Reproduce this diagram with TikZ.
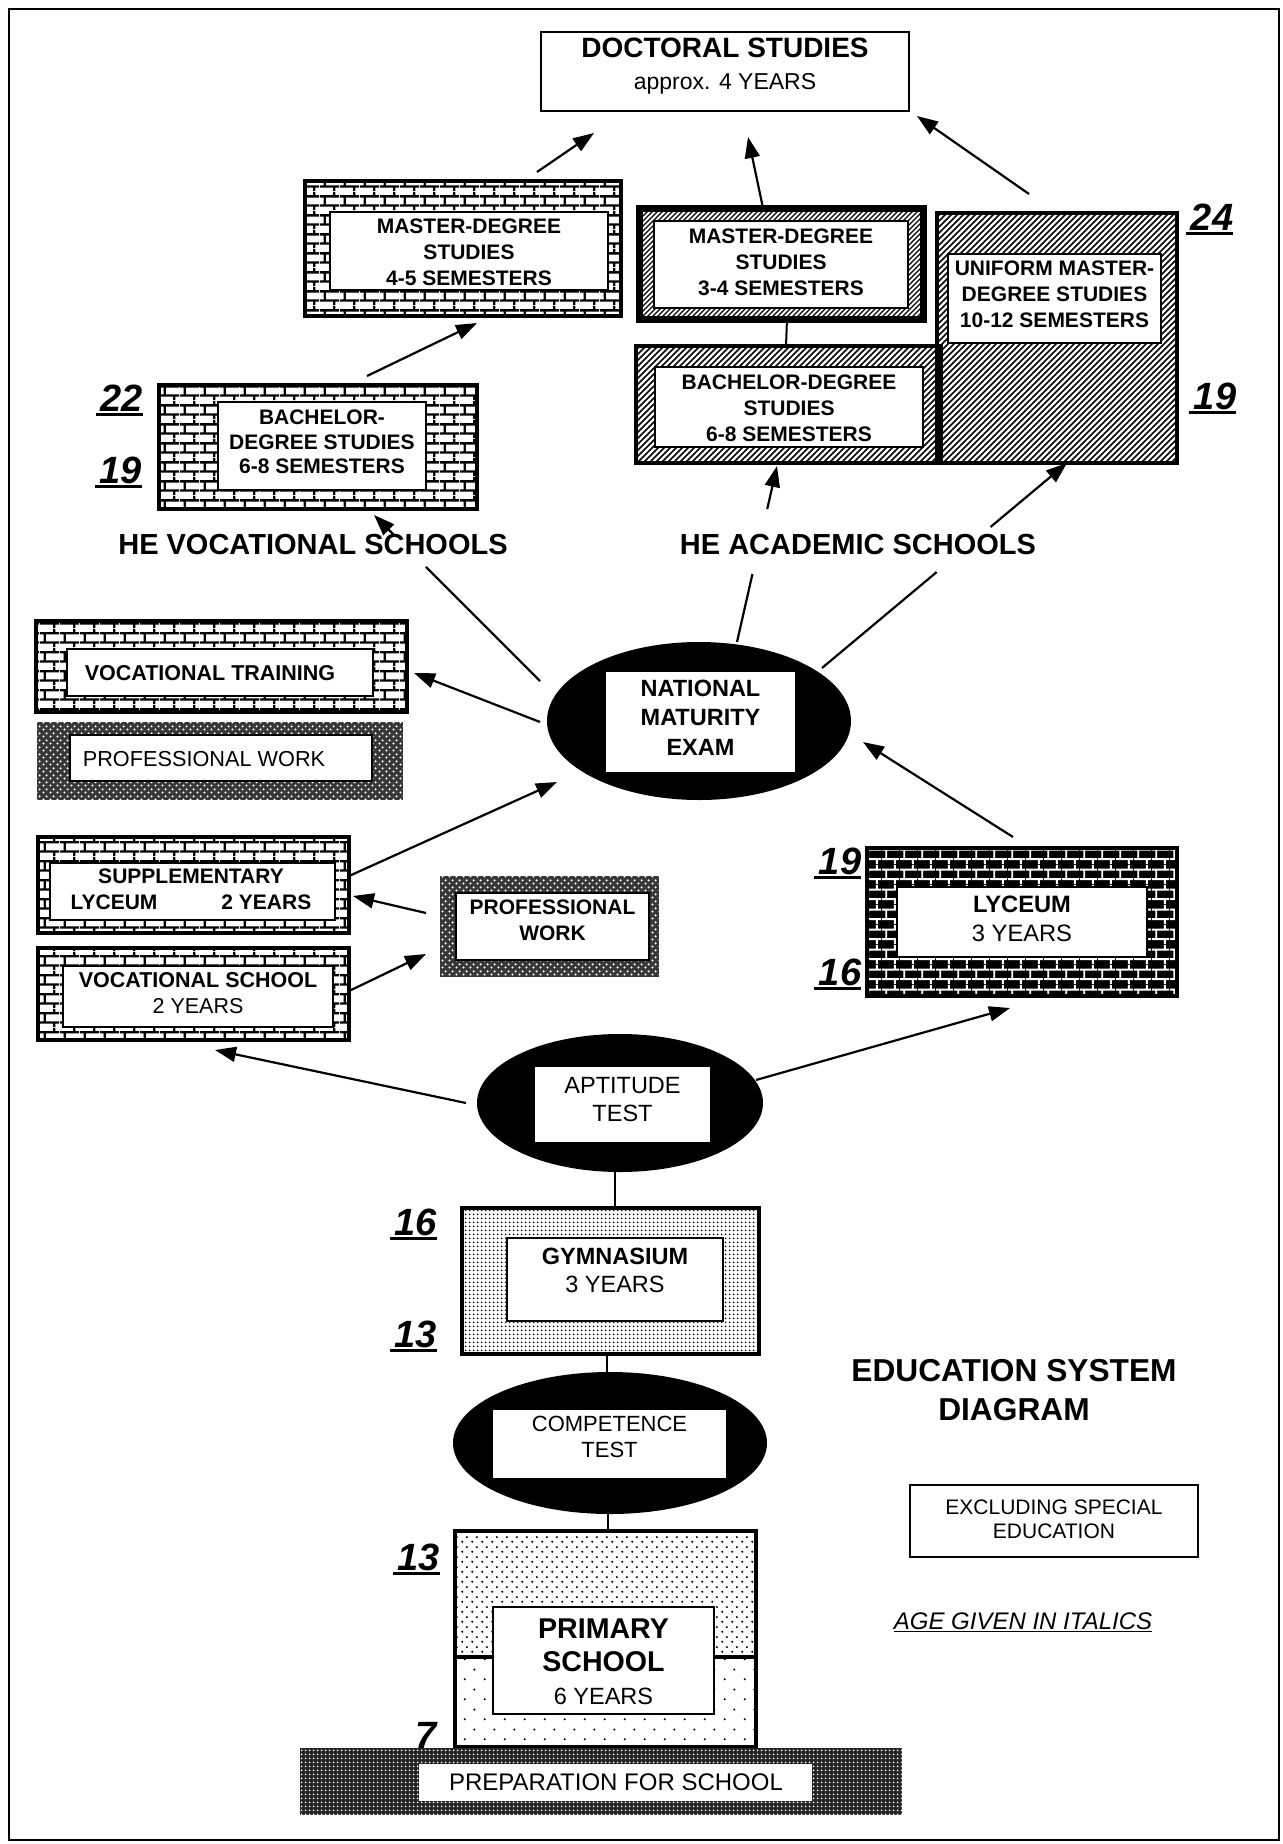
\documentclass[tikz,border=0pt]{standalone}
\usepackage{fontspec}
\setmainfont{Liberation Sans}
\usetikzlibrary{patterns,shapes.geometric,arrows.meta,calc}

\pgfdeclarepatternformonly{brickpat}{\pgfpointorigin}{\pgfpoint{20pt}{19pt}}{\pgfpoint{20pt}{19pt}}{%
  \pgfsetlinewidth{2.4pt}%
  \pgfpathmoveto{\pgfpoint{0pt}{4.75pt}}\pgfpathlineto{\pgfpoint{20pt}{4.75pt}}%
  \pgfpathmoveto{\pgfpoint{0pt}{14.25pt}}\pgfpathlineto{\pgfpoint{20pt}{14.25pt}}%
  \pgfpathmoveto{\pgfpoint{5pt}{4.75pt}}\pgfpathlineto{\pgfpoint{5pt}{14.25pt}}%
  \pgfpathmoveto{\pgfpoint{15pt}{14.25pt}}\pgfpathlineto{\pgfpoint{15pt}{19pt}}%
  \pgfpathmoveto{\pgfpoint{15pt}{0pt}}\pgfpathlineto{\pgfpoint{15pt}{4.75pt}}%
  \pgfusepath{stroke}}
\pgfdeclarepatternformonly{brickS}{\pgfpointorigin}{\pgfpoint{18pt}{20pt}}{\pgfpoint{18pt}{20pt}}{%
  \pgfsetlinewidth{2pt}%
  \pgfpathmoveto{\pgfpoint{0pt}{5pt}}\pgfpathlineto{\pgfpoint{18pt}{5pt}}%
  \pgfpathmoveto{\pgfpoint{0pt}{15pt}}\pgfpathlineto{\pgfpoint{18pt}{15pt}}%
  \pgfpathmoveto{\pgfpoint{4.5pt}{5pt}}\pgfpathlineto{\pgfpoint{4.5pt}{15pt}}%
  \pgfpathmoveto{\pgfpoint{13.5pt}{15pt}}\pgfpathlineto{\pgfpoint{13.5pt}{20pt}}%
  \pgfpathmoveto{\pgfpoint{13.5pt}{0pt}}\pgfpathlineto{\pgfpoint{13.5pt}{5pt}}%
  \pgfusepath{stroke}}
\pgfdeclarepatternformonly{hatchpat}{\pgfpoint{-1pt}{-1pt}}{\pgfpoint{7pt}{7pt}}{\pgfpoint{6pt}{6pt}}{%
  \pgfsetlinewidth{1.7pt}\pgfpathmoveto{\pgfpoint{0pt}{0pt}}\pgfpathlineto{\pgfpoint{6.1pt}{6.1pt}}\pgfusepath{stroke}}
\pgfdeclarepatternformonly{hatchfine}{\pgfpoint{-1pt}{-1pt}}{\pgfpoint{6pt}{6pt}}{\pgfpoint{5pt}{5pt}}{%
  \pgfsetlinewidth{1.2pt}\pgfpathmoveto{\pgfpoint{0pt}{0pt}}\pgfpathlineto{\pgfpoint{5.1pt}{5.1pt}}\pgfusepath{stroke}}
\pgfdeclarepatternformonly{gymdots}{\pgfpointorigin}{\pgfpoint{4pt}{4pt}}{\pgfpoint{4pt}{4pt}}{%
  \pgfpathcircle{\pgfpoint{2pt}{2pt}}{1.2pt}\pgfusepath{fill}}
\pgfdeclarepatternformonly{dotsA}{\pgfpointorigin}{\pgfpoint{10pt}{10pt}}{\pgfpoint{10pt}{10pt}}{%
  \pgfpathcircle{\pgfpoint{2.5pt}{2.5pt}}{1.2pt}\pgfpathcircle{\pgfpoint{7.5pt}{7.5pt}}{1.2pt}\pgfusepath{fill}}
\pgfdeclarepatternformonly{dotsB}{\pgfpointorigin}{\pgfpoint{20pt}{20pt}}{\pgfpoint{20pt}{20pt}}{%
  \pgfpathcircle{\pgfpoint{5pt}{5pt}}{1.2pt}\pgfpathcircle{\pgfpoint{15pt}{15pt}}{1.2pt}\pgfusepath{fill}}
\pgfdeclarepatternformonly{whdots}{\pgfpointorigin}{\pgfpoint{7pt}{7pt}}{\pgfpoint{7pt}{7pt}}{%
  \pgfpathcircle{\pgfpoint{1.75pt}{1.75pt}}{1.3pt}\pgfpathcircle{\pgfpoint{5.25pt}{5.25pt}}{1.3pt}\pgfusepath{fill}}

\newcommand\agenum[1]{\setbox0=\hbox{#1}\kern-5pt\rlap{\rule[-5pt]{\dimexpr\wd0+5pt\relax}{3pt}}\kern5pt\box0}

\begin{document}
\begin{tikzpicture}[x=1pt,y=-1pt,
  every node/.style={inner sep=0pt, outer sep=0pt},
  sz/.style 2 args={minimum width=#1pt, minimum height=#2pt},
  box/.style={draw, line width=4.5pt},
  inbox/.style={draw, fill=white, line width=2.5pt},
  thinbox/.style={draw, fill=white, line width=1.5pt},
  blob/.style={ellipse, fill=black},
  arr/.style={line width=2.2pt, -{Triangle[length=21pt,width=15pt]}},
  link/.style={line width=2pt},
  agetxt/.style={anchor=base, font=\fontsize{38}{40}\selectfont\bfseries\itshape},
  bt/.style={align=center, font=\fontsize{21}{26}\selectfont\bfseries},
  rt/.style={align=center, font=\fontsize{23.5}{28}\selectfont},
  het/.style={font=\fontsize{29}{32}\selectfont\bfseries}
]
\fill[white] (0,0) rectangle (1282,1844);
\useasboundingbox (0,0) rectangle (1282,1844);
\draw[line width=1.5pt] (9,9) rectangle (1279,1840);

% Doctoral
\node[thinbox, sz={368}{79}] (doc) at (725,71.5) {};
\node[align=center, font=\fontsize{23}{32}\selectfont] (doct) at (725,66) {{\fontsize{28}{32}\selectfont\bfseries DOCTORAL STUDIES}\\approx. 4 YEARS};

% Master 4-5
\node[box, pattern=brickpat, sz={316}{135}] (m45) at (463,248.5) {};
\node[inbox, sz={278}{78}] (m45i) at (469,251) {};
\node[bt] (m45t) at (469,252) {MASTER-DEGREE\\STUDIES\\4-5 SEMESTERS};

% Master 3-4
\node[box, line width=7pt, pattern=hatchfine, sz={284}{111}] (m34) at (781,263.5) {};
\node[inbox, sz={254}{87}] (m34i) at (781,264.5) {};
\node[bt] (m34t) at (781,262) {MASTER-DEGREE\\STUDIES\\3-4 SEMESTERS};

% Bachelor academic
\node[box, pattern=hatchpat, sz={305}{117}] (bachA) at (788.5,404.5) {};
\node[inbox, line width=2pt, sz={268}{80}] (bachAi) at (789,407) {};
\node[bt] (bachAt) at (789,408) {BACHELOR-DEGREE\\STUDIES\\6-8 SEMESTERS};

% Uniform
\node[box, pattern=hatchpat, sz={240}{250}] (uni) at (1057,338) {};
\node[inbox, line width=2pt, sz={213}{89}] (unii) at (1054.5,298.5) {};
\node[bt] (unit) at (1054.5,294) {UNIFORM MASTER-\\DEGREE STUDIES\\10-12 SEMESTERS};

% Bachelor vocational
\node[box, pattern=brickpat, sz={318}{124}] (bachV) at (318,447) {};
\node[inbox, sz={208}{88}] (bachVi) at (322,446) {};
\node[bt, font=\fontsize{21}{24.5}\selectfont\bfseries] (bachVt) at (322,442) {BACHELOR-\\DEGREE STUDIES\\6-8 SEMESTERS};

% HE labels
\node[het] (hev) at (313,545) {HE VOCATIONAL SCHOOLS};
\node[het] (hea) at (858,545) {HE ACADEMIC SCHOOLS};

% Vocational training
\node[box, pattern=brickpat, sz={371}{91}] (vt) at (221.5,666.5) {};
\node[inbox, sz={306}{47}] (vti) at (220,672.5) {};
\node[font=\fontsize{21.5}{26}\selectfont\bfseries] (vtt) at (210,673) {VOCATIONAL TRAINING};

% Professional work (left)
\node[preaction={fill=black!78}, pattern=whdots, pattern color=white, sz={366}{78}] (pwL) at (220,761) {};
\node[inbox, sz={302}{46}] (pwLi) at (221,758) {};
\node[font=\fontsize{21.7}{26}\selectfont] (pwLt) at (204,759) {PROFESSIONAL WORK};

% National maturity exam
\node[blob, sz={304}{158}] (exam) at (699,721) {};
\node[fill=white, sz={189}{100}] (exami) at (700.5,722) {};
\node[bt, font=\fontsize{23.5}{29.5}\selectfont\bfseries] (examt) at (700.5,717.5) {NATIONAL\\MATURITY\\EXAM};

% Supplementary lyceum
\node[box, pattern=brickpat, sz={311}{96}] (suppl) at (193.5,885) {};
\node[inbox, sz={285}{57}] (suppli) at (192.5,891.5) {};
\node[bt] (supplt) at (191,889) {SUPPLEMENTARY\\LYCEUM\hspace{64pt}2 YEARS};

% Vocational school
\node[box, pattern=brickpat, sz={311}{92}] (vs) at (193.5,994) {};
\node[inbox, sz={270}{61}] (vsi) at (198,996.5) {};
\node[align=center, font=\fontsize{21.5}{26}\selectfont] (vst) at (198,993) {\textbf{VOCATIONAL SCHOOL}\\2 YEARS};

% Professional work (middle)
\node[preaction={fill=black!78}, pattern=whdots, pattern color=white, sz={219}{101}] (pwM) at (549.5,926.5) {};
\node[inbox, sz={193}{67}] (pwMi) at (552.5,926.5) {};
\node[bt] (pwMt) at (552.5,920) {PROFESSIONAL\\WORK};

% Lyceum
\node[box, preaction={fill=black}, pattern=brickS, pattern color=white, sz={310}{148}] (lyc) at (1022,922) {};
\node[inbox, sz={250}{70}] (lyci) at (1022,922) {};
\node[align=center, font=\fontsize{23.7}{29}\selectfont] (lyct) at (1022,918.5) {\textbf{LYCEUM}\\3 YEARS};

% Aptitude test
\node[blob, sz={286}{138}] (apt) at (620,1103) {};
\node[fill=white, sz={175}{75}] (apti) at (622.5,1104.5) {};
\node[rt] (aptt) at (622.5,1100) {APTITUDE\\TEST};

% Gymnasium
\node[box, pattern=gymdots, sz={297}{146}] (gym) at (610.5,1281) {};
\node[inbox, sz={216}{83}] (gymi) at (615,1279.5) {};
\node[rt] (gymt) at (615,1270) {\textbf{GYMNASIUM}\\3 YEARS};

% Competence test
\node[blob, sz={314}{142}] (comp) at (610,1443) {};
\node[fill=white, sz={233}{68}] (compi) at (609.5,1444) {};
\node[align=center, font=\fontsize{22}{26}\selectfont] (compt) at (609.5,1437) {COMPETENCE\\TEST};

% Primary school
\node[box, pattern=dotsA, sz={301}{126}] (primU) at (605.5,1594) {};
\node[box, pattern=dotsB, sz={301}{90}] (primL) at (605.5,1702) {};
\node[inbox, sz={221}{107}] (primi) at (603.5,1660.5) {};
\node[align=center, font=\fontsize{23.5}{33}\selectfont] (primt) at (603.5,1661.5) {{\fontsize{28.6}{33}\selectfont\bfseries PRIMARY}\\{\fontsize{28.6}{33}\selectfont\bfseries SCHOOL}\\6 YEARS};

% Preparation for school
\node[preaction={fill=black!85}, pattern=gymdots, pattern color=white, sz={602}{67}] (prep) at (601,1781.5) {};
\node[fill=white, sz={393}{37}] (prepi) at (615.5,1782) {};
\node[font=\fontsize{24}{28}\selectfont] (prept) at (616,1782) {PREPARATION FOR SCHOOL};

% Title and notes
\node[align=center, font=\fontsize{31.7}{39}\selectfont\bfseries] (title) at (1014,1390.5) {EDUCATION SYSTEM\\DIAGRAM};
\node[thinbox, sz={288}{72}] (excl) at (1054,1521) {};
\node[align=center, font=\fontsize{21}{24}\selectfont] (exclt) at (1054,1519) {EXCLUDING SPECIAL\\EDUCATION};
\node[font=\fontsize{24}{28}\selectfont\itshape] (note) at (1023,1622) {\underline{AGE GIVEN IN ITALICS}};

% Ages
\node[agetxt] (g24) at (1212,230) {\agenum{24}};
\node[agetxt] (g19r) at (1215,409) {\agenum{19}};
\node[agetxt] (g22) at (122,411) {\agenum{22}};
\node[agetxt] (g19l) at (121,483) {\agenum{19}};
\node[agetxt] (g19y) at (840,874) {\agenum{19}};
\node[agetxt] (g16y) at (840,985) {\agenum{16}};
\node[agetxt] (g16g) at (416,1235) {\agenum{16}};
\node[agetxt] (g13g) at (416,1347) {\agenum{13}};
\node[agetxt] (g13p) at (419,1570) {\agenum{13}};
\node[agetxt] (g7) at (426,1748) {7};

% Connectors
\draw[arr] ($(m45.north)+(74,-9)$) -- ($(doc.south)+(-131,22)$);
\draw[arr] ($(m34.north)+(-18,0)$) -- ($(doc.south)+(23,26)$);
\draw[arr] ($(uni.north)+(-28,-19)$) -- ($(doc.south)+(192,5)$);
\draw[link] ($(m34.south)+(6,0)$) -- ($(bachA.north)+(-2.5,0)$);
\draw[arr] ($(bachV.north)+(49,-9)$) -- ($(m45.south)+(14,7)$);

\coordinate (a5s) at ($(exam.center)+(-159,-40)$);
\coordinate (a5e) at ($(bachV.south)+(56,6)$);
\draw[arr] (a5s) -- ($(a5s)!0.687!(a5e)$) ($(a5s)!0.873!(a5e)$) -- (a5e);
\coordinate (a6s) at ($(exam.center)+(38,-79)$);
\coordinate (a6e) at ($(bachA.south)+(-11.5,3)$);
\draw[arr] (a6s) -- ($(a6s)!0.386!(a6e)$) ($(a6s)!0.756!(a6e)$) -- (a6e);
\coordinate (a7s) at ($(exam.center)+(123,-53)$);
\coordinate (a7e) at ($(uni.south)+(10,0)$);
\draw[arr] (a7s) -- ($(a7s)!0.468!(a7e)$) ($(a7s)!0.688!(a7e)$) -- (a7e);

\draw[arr] ($(exam.center)+(-159,1)$) -- ($(vt.east)+(7,6.5)$);
\draw[arr] ($(suppl.east)+(0,-9)$) -- ($(exam.center)+(-142,61)$);
\draw[arr] ($(pwM.west)+(-14,-13.5)$) -- ($(suppl.east)+(4,11)$);
\draw[arr] ($(vs.east)+(0,-3)$) -- ($(pwM.west)+(-14,27.5)$);
\draw[arr] ($(apt.center)+(-154,0)$) -- ($(vs.south)+(21.5,10)$);
\draw[arr] ($(apt.center)+(136,-23)$) -- ($(lyc.south)+(-12,12)$);
\draw[arr] ($(lyc.north)+(-9,-11)$) -- ($(exam.center)+(164,21)$);
\draw[link] ($(apt.south)+(-5,0)$) -- ($(gym.north)+(4.5,0)$);
\draw[link] ($(gym.south)+(-3.5,0)$) -- ($(comp.north)+(-3,0)$);
\draw[link] ($(comp.south)+(-2,0)$) -- ($(primU.north)+(2.5,0)$);
\end{tikzpicture}
\end{document}
